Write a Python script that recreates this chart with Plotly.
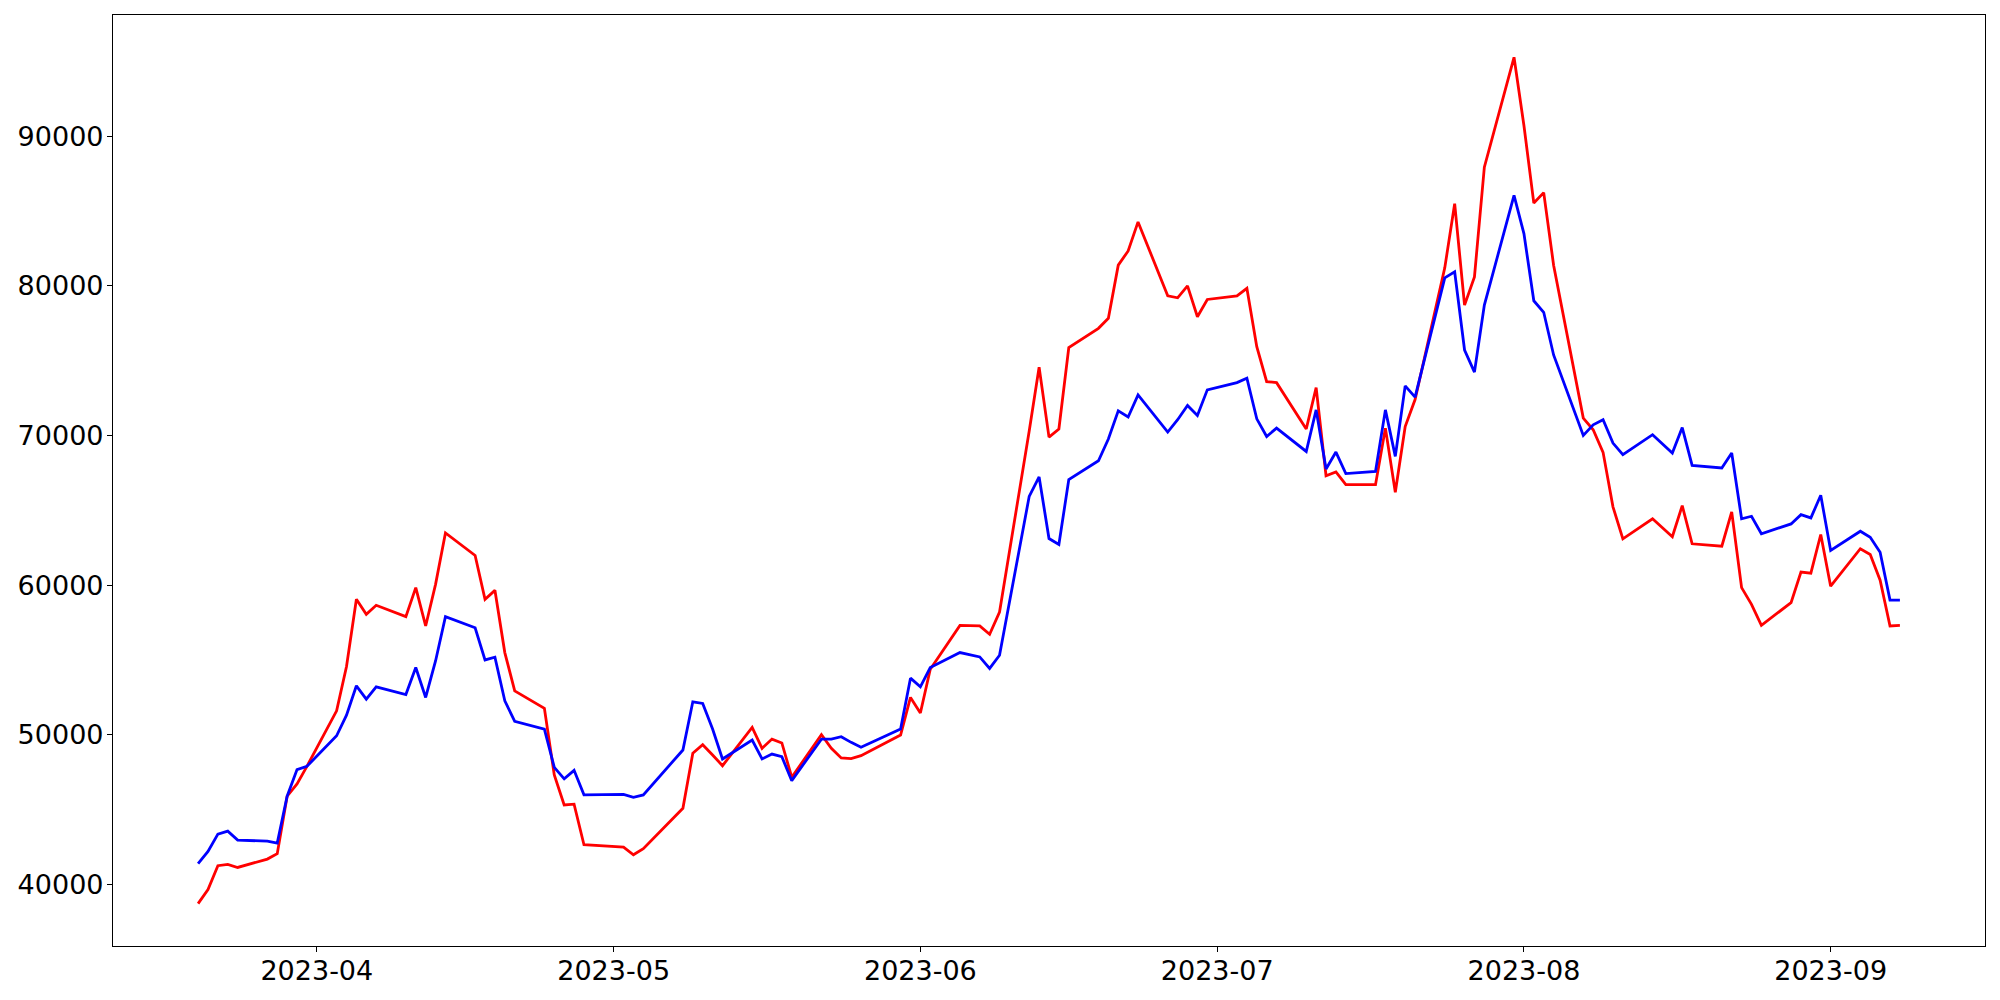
import pandas as pd
import plotly.graph_objects as go

# Trading days (KRX calendar: weekends and holidays removed)
holidays = ["2023-05-01", "2023-05-05", "2023-05-29", "2023-06-06", "2023-08-15"]
dates = pd.bdate_range("2023-03-20", "2023-09-08", freq="C", holidays=holidays)

red_values = [
    # March
    38710, 39650, 41250, 41330, 41130, 41690, 42050, 45890, 46710, 47890,
    # April
    51600, 54560, 59050, 58050, 58650, 57890, 59830, 57270, 60050, 63490,
    61980, 59050, 59650, 55490, 52930, 51760, 47310, 45310, 45360, 42650,
    # May
    42490, 41980, 42380, 45090, 48760, 49330, 48650, 47930, 50490, 49090,
    49710, 49450, 47160, 50000, 49090, 48450, 48400, 48600, 49980, 52490,
    # June
    51450, 54380, 57310, 57270, 56710, 58200, 70300, 74560, 69890, 70430,
    75870, 77160, 77830, 81380, 82330, 84270, 79330, 79200, 80000, 77930, 79090,
    # July
    79330, 79830, 75930, 73600, 73530, 70430, 73200, 67310, 67560, 66710,
    66710, 70490, 66200, 70600, 72400, 81200, 85490, 78710, 80600, 87930, 95270,
    # August
    90710, 85530, 86230, 81380, 71160, 70380, 68870, 65230, 63090, 64430,
    63230, 65310, 62760, 62600, 64890, 59830, 58710, 57310, 58830, 60870, 60800, 63380,
    # September
    59930, 62430, 62050, 60330, 57270, 57310,
]

blue_values = [
    # March
    41380, 42200, 43360, 43560, 42960, 42890, 42760, 45890, 47670, 47890,
    # April
    49930, 51310, 53270, 52380, 53200, 52690, 54490, 52490, 54930, 57890,
    57150, 55000, 55180, 52270, 50890, 50380, 47820, 47050, 47620, 45980,
    # May
    46020, 45820, 45980, 48980, 52200, 52090, 50380, 48380, 49650, 48380,
    48710, 48530, 46930, 49710, 49710, 49870, 49490, 49160, 50380, 53780,
    # June
    53200, 54490, 55490, 55200, 54430, 55310, 65930, 67230, 63110, 62710,
    67050, 68310, 69760, 71650, 71230, 72710, 70230, 71050, 72000, 71330, 73050,
    # July
    73530, 73830, 71110, 69930, 70490, 68930, 71710, 67760, 68890, 67450,
    67600, 71710, 68600, 73310, 72560, 80530, 80930, 75710, 74230, 78710, 86050,
    # August
    83490, 79000, 78230, 75380, 70000, 70710, 71050, 69490, 68710, 70050,
    68830, 70530, 68000, 67830, 68830, 64430, 64600, 63430, 64090, 64710, 64490, 66000,
    # September
    62310, 63600, 63200, 62200, 59000, 59000,
]

n = min(len(dates), len(red_values), len(blue_values))
x = list(dates[:n])

fig = go.Figure()
fig.add_trace(go.Scatter(x=x, y=red_values[:n], mode="lines",
                         line=dict(color="#ff0000", width=2.8), showlegend=False))
fig.add_trace(go.Scatter(x=x, y=blue_values[:n], mode="lines",
                         line=dict(color="#0000ff", width=2.8), showlegend=False))

# matplotlib-like 5% margins
span = x[-1] - x[0]
xr = [x[0] - span * 0.05, x[-1] + span * 0.05]
allv = red_values[:n] + blue_values[:n]
vmin, vmax = min(allv), max(allv)
vs = vmax - vmin
yr = [vmin - 0.05 * vs, vmax + 0.05 * vs]

axis_font = dict(family="DejaVu Sans", size=27, color="black")
fig.update_layout(
    width=2000, height=1000,
    margin=dict(l=105, r=23, t=7, b=62, autoexpand=False),
    paper_bgcolor="white", plot_bgcolor="white",
    xaxis=dict(type="date", range=xr, tick0="2023-04-01", dtick="M1",
               tickformat="%Y-%m", showgrid=False, zeroline=False,
               showline=True, mirror=True, linecolor="black", linewidth=1.2,
               ticks="outside", ticklen=5, tickwidth=1.2, tickcolor="black",
               tickfont=axis_font, automargin=False, ticklabelstandoff=-5),
    yaxis=dict(range=yr, tickmode="array",
               tickvals=[40000, 50000, 60000, 70000, 80000, 90000],
               ticktext=["40000", "50000", "60000", "70000", "80000", "90000"],
               showgrid=False, zeroline=False,
               showline=True, mirror=True, linecolor="black", linewidth=1.2,
               ticks="outside", ticklen=5, tickwidth=1.2, tickcolor="black",
               tickfont=axis_font, automargin=False, ticklabelstandoff=-2),
)

fig.write_html("out.html")
